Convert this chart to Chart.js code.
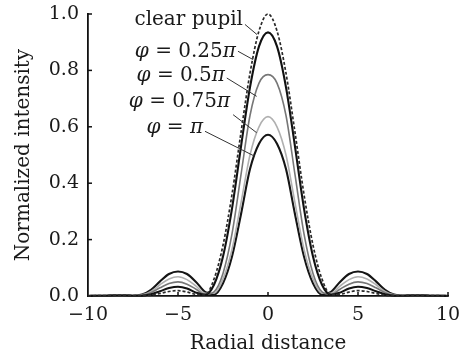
<!DOCTYPE html>
<html>
<head>
<meta charset="utf-8">
<script src="https://cdn.jsdelivr.net/npm/chart.js@4"></script>
<style>
html,body{margin:0;padding:0;background:#fff;}
#c{display:block;}
</style>
</head>
<body>
<canvas id="c" width="461" height="360"></canvas>
<script>
// ---- data ----
const radialDistance = [-10,-9.5,-9,-8.5,-8,-7.5,-7,-6.5,-6,-5.5,-5,-4.5,-4,-3.5,-3,-2.5,-2,-1.5,-1,-0.5,0,0.5,1,1.5,2,2.5,3,3.5,4,4.5,5,5.5,6,6.5,7,7.5,8,8.5,9,9.5,10];

const clearPupil = [0.0,0.001,0.001,0.002,0.002,0.001,0.001,0.003,0.009,0.016,0.019,0.014,0.006,0.005,0.06,0.18,0.36,0.58,0.79,0.94,1.0,0.94,0.79,0.58,0.36,0.18,0.06,0.005,0.006,0.014,0.019,0.016,0.009,0.003,0.001,0.001,0.002,0.002,0.001,0.001,0.0];
const phi025 = [0.0,0.001,0.001,0.002,0.002,0.001,0.001,0.006,0.017,0.028,0.033,0.027,0.012,0.004,0.04,0.14,0.31,0.53,0.74,0.885,0.935,0.885,0.74,0.53,0.31,0.14,0.04,0.004,0.012,0.027,0.033,0.028,0.017,0.006,0.001,0.001,0.002,0.002,0.001,0.001,0.0];
const phi050 = [0.0,0.001,0.001,0.002,0.002,0.001,0.003,0.012,0.029,0.044,0.050,0.042,0.024,0.006,0.015,0.08,0.22,0.43,0.64,0.755,0.785,0.755,0.64,0.43,0.22,0.08,0.015,0.006,0.024,0.042,0.050,0.044,0.029,0.012,0.003,0.001,0.002,0.002,0.001,0.001,0.0];
const phi075 = [0.0,0.001,0.001,0.002,0.002,0.001,0.004,0.016,0.04,0.06,0.068,0.058,0.035,0.01,0.01,0.06,0.165,0.33,0.50,0.60,0.636,0.60,0.50,0.33,0.165,0.06,0.01,0.01,0.035,0.058,0.068,0.06,0.04,0.016,0.004,0.001,0.002,0.002,0.001,0.001,0.0];
const phi100 = [0.0,0.001,0.001,0.002,0.002,0.001,0.005,0.022,0.052,0.078,0.087,0.078,0.05,0.015,0.005,0.045,0.14,0.29,0.45,0.54,0.572,0.54,0.45,0.29,0.14,0.045,0.005,0.015,0.05,0.078,0.087,0.078,0.052,0.022,0.005,0.001,0.002,0.002,0.001,0.001,0.0];

const xTicks = [-10,-5,0,5,10];
const yTicks = [0,0.2,0.4,0.6,0.8,1.0];
const seriesLabels = ['clear pupil','φ = 0.25π','φ = 0.5π','φ = 0.75π','φ = π'];

// ---- annotation placement (data units) ----
const labelSpots = [
  {text:0, x:-1.39, y:0.980, lx1:-1.28, ly1:0.963, lx2:-0.61, ly2:0.927},
  {text:1, x:-1.78, y:0.867, lx1:-1.67, ly1:0.868, lx2:-0.82, ly2:0.838},
  {text:2, x:-2.39, y:0.780, lx1:-2.29, ly1:0.773, lx2:-0.63, ly2:0.708},
  {text:3, x:-2.11, y:0.689, lx1:-1.94, ly1:0.643, lx2:-0.63, ly2:0.579},
  {text:4, x:-3.61, y:0.597, lx1:-3.50, ly1:0.584, lx2:-0.72, ly2:0.495}
];

const SERIF = '"DejaVu Serif", "Liberation Serif", serif';
const toPts = arr => radialDistance.map((x,i)=>({x:x, y:arr[i]}));

const styles = [
  {data:clearPupil, color:'#2a2a2a', width:1.7, dash:[3,2]},
  {data:phi025, color:'#111', width:2.1, dash:[]},
  {data:phi050, color:'#777', width:1.6, dash:[]},
  {data:phi075, color:'#b0b0b0', width:1.6, dash:[]},
  {data:phi100, color:'#151515', width:2.1, dash:[]}
];

const datasets = styles.map((s,i)=>({
  label: seriesLabels[i],
  data: toPts(s.data),
  borderColor: s.color,
  borderWidth: s.width,
  borderDash: s.dash,
  pointRadius: 0,
  fill: false,
  cubicInterpolationMode: 'monotone',
  clip: false
}));

const inwardTicks = {
  id:'inwardTicks',
  afterDraw(chart){
    const ctx = chart.ctx, xs = chart.scales.x, ys = chart.scales.y;
    const a = chart.chartArea;
    ctx.save();
    ctx.strokeStyle = '#111'; ctx.lineWidth = 1.5;
    yTicks.forEach(v=>{ if(v===0) return; const py = ys.getPixelForValue(v);
      ctx.beginPath(); ctx.moveTo(a.left, py); ctx.lineTo(a.left+4, py); ctx.stroke(); });
    xTicks.forEach(v=>{ if(v===-10) return; const px = xs.getPixelForValue(v);
      ctx.beginPath(); ctx.moveTo(px, a.bottom); ctx.lineTo(px, a.bottom-4); ctx.stroke(); });
    ctx.restore();
  }
};

const seriesNotes = {
  id:'seriesNotes',
  afterDatasetsDraw(chart){
    const ctx = chart.ctx, xs = chart.scales.x, ys = chart.scales.y;
    ctx.save();
    const size = 20;
    const normal = size+'px '+SERIF, ital = 'italic '+size+'px '+SERIF;
    labelSpots.forEach(sp=>{
      ctx.strokeStyle = '#333'; ctx.lineWidth = 1;
      ctx.beginPath();
      ctx.moveTo(xs.getPixelForValue(sp.lx1), ys.getPixelForValue(sp.ly1));
      ctx.lineTo(xs.getPixelForValue(sp.lx2), ys.getPixelForValue(sp.ly2));
      ctx.stroke();
      const str = seriesLabels[sp.text];
      const chars = Array.from(str);
      let total = 0;
      const widths = chars.map(ch=>{ ctx.font = (ch==='φ'||ch==='π')?ital:normal; const w = ctx.measureText(ch).width; total += w; return w; });
      let px = xs.getPixelForValue(sp.x) - total;
      const py = ys.getPixelForValue(sp.y);
      ctx.fillStyle = '#1a1a1a'; ctx.textBaseline = 'middle'; ctx.textAlign = 'left';
      chars.forEach((ch,i)=>{ ctx.font = (ch==='φ'||ch==='π')?ital:normal; ctx.fillText(ch, px, py); px += widths[i]; });
    });
    ctx.restore();
  }
};

new Chart(document.getElementById('c'), {
  type:'line',
  data:{datasets:datasets},
  options:{
    responsive:false,
    devicePixelRatio:1,
    animation:false,
    layout:{padding:{left:0,right:13,top:14,bottom:0}},
    plugins:{legend:{display:false}, tooltip:{enabled:false}},
    scales:{
      x:{
        type:'linear', min:-10, max:10,
        afterBuildTicks: s => { s.ticks = xTicks.map(v=>({value:v})); },
        afterFit: s => { s.height = 64; s.paddingLeft = 0; s.paddingRight = 0; },
        ticks:{ color:'#1a1a1a', font:{family:SERIF, size:19}, padding:8,
          callback: v => v<0 ? '\u2212'+Math.abs(v) : String(v) },
        grid:{drawOnChartArea:false, drawTicks:false},
        border:{display:true, color:'#111', width:1.8},
        title:{display:true, text:'Radial distance', color:'#1a1a1a', font:{family:SERIF, size:20}, padding:{top:0,bottom:4}}
      },
      y:{
        type:'linear', min:0, max:1,
        afterBuildTicks: s => { s.ticks = yTicks.map(v=>({value:v})); },
        afterFit: s => { s.width = 88; s.paddingTop = 0; s.paddingBottom = 0; },
        ticks:{ color:'#1a1a1a', font:{family:SERIF, size:19}, padding:9,
          callback: v => Number(v).toFixed(1) },
        grid:{drawOnChartArea:false, drawTicks:false},
        border:{display:true, color:'#111', width:1.8},
        title:{display:true, text:'Normalized intensity', color:'#1a1a1a', font:{family:SERIF, size:20}, padding:{top:12,bottom:0}}
      }
    }
  },
  plugins:[inwardTicks, seriesNotes]
});
</script>
</body>
</html>
